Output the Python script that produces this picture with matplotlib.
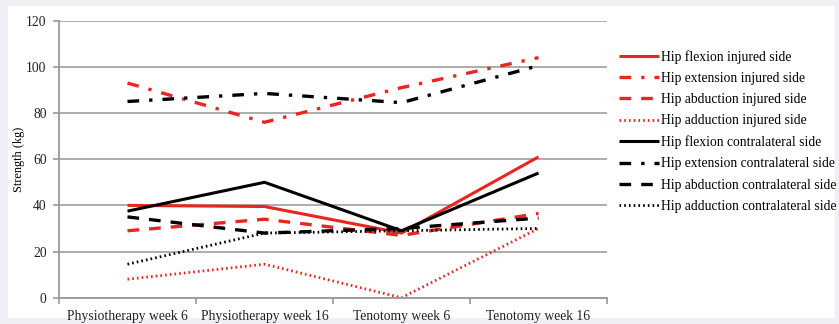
import numpy as np
import matplotlib.pyplot as plt
from matplotlib.patches import Rectangle

categories = ["Physiotherapy week 6", "Physiotherapy week 16", "Tenotomy week 6", "Tenotomy week 16"]

flexion_injured = [40, 39.5, 28, 61]
extension_injured = [93, 76, 91, 104]
abduction_injured = [29, 34, 27, 36.5]
adduction_injured = [8, 14.5, 0, 30]
flexion_contra = [37.5, 50, 29, 54]
extension_contra = [85, 88.5, 84.5, 100.5]
abduction_contra = [35, 28, 30, 34.5]
adduction_contra = [14.5, 28, 29, 30]

labels = ["Hip flexion injured side", "Hip extension injured side",
          "Hip abduction injured side", "Hip adduction injured side",
          "Hip flexion contralateral side", "Hip extension contralateral side",
          "Hip abduction contralateral side", "Hip adduction contralateral side"]

series = [flexion_injured, extension_injured, abduction_injured, adduction_injured,
          flexion_contra, extension_contra, abduction_contra, adduction_contra]

red = "#ea2520"
styles = [
    (red, "-", 2.2),
    (red, (0, (3.5, 3, 1, 3)), 2.4),
    (red, (0, (3.5, 3)), 2.4),
    (red, (0, (0.6, 1.1)), 2.0),
    ("black", "-", 2.2),
    ("black", (0, (3.5, 3, 1, 3)), 2.4),
    ("black", (0, (3.5, 3)), 2.4),
    ("black", (0, (0.6, 1.1)), 2.0),
]

plt.rcParams['font.family'] = ['Liberation Serif', 'DejaVu Serif']

fig = plt.figure(figsize=(8.39, 3.24), dpi=100)
fig.patch.set_facecolor("#eef0f6")
fig.patches.append(Rectangle((8/839, 6/324), 827/839, 312/324, transform=fig.transFigure,
                             facecolor="white", edgecolor="none", zorder=-10))

ax = fig.add_axes([59/839, 26.3/324, 548/839, 277/324])
ax.set_facecolor("none")

x = np.arange(len(categories))
for s, lab, (c, ls, lw) in zip(series, labels, styles):
    ax.plot(x, s, color=c, linestyle=ls, linewidth=lw, label=lab,
            dash_capstyle="butt", solid_capstyle="butt")

ax.set_xlim(-0.5, len(categories) - 0.5)
ax.set_ylim(0, 120)
ax.set_yticks(np.arange(0, 121, 20))
ax.set_xticks(x)
ax.set_xticklabels(categories, fontsize=9.8, color="#222222")
ax.set_xticks(np.arange(-0.5, len(categories)), minor=True)
ax.tick_params(axis="x", which="major", length=0, pad=9)
ax.tick_params(axis="x", which="minor", length=4, color="#999999", width=1.2)
ax.tick_params(axis="y", length=4, color="#999999", width=1.2, labelsize=9.8,
               labelcolor="#222222", pad=5)
ax.grid(axis="y", color="#a6a6a6", linewidth=1.3)
ax.set_axisbelow(True)
for side in ["top", "right"]:
    ax.spines[side].set_visible(False)
for side in ["left", "bottom"]:
    ax.spines[side].set_color("#999999")
    ax.spines[side].set_linewidth(1.3)

ax.set_ylabel("Strength (kg)", fontsize=8.8)
ax.yaxis.set_label_coords(-34/548, 0.5)

ax.legend(loc="upper left", bbox_to_anchor=(1.022, (297.7 - 50) / 277), frameon=False,
          fontsize=9.8, handlelength=2.9, handletextpad=0.15, labelspacing=0.6,
          borderaxespad=0, borderpad=0)

fig.savefig("out.png", dpi=100, facecolor=fig.get_facecolor())
